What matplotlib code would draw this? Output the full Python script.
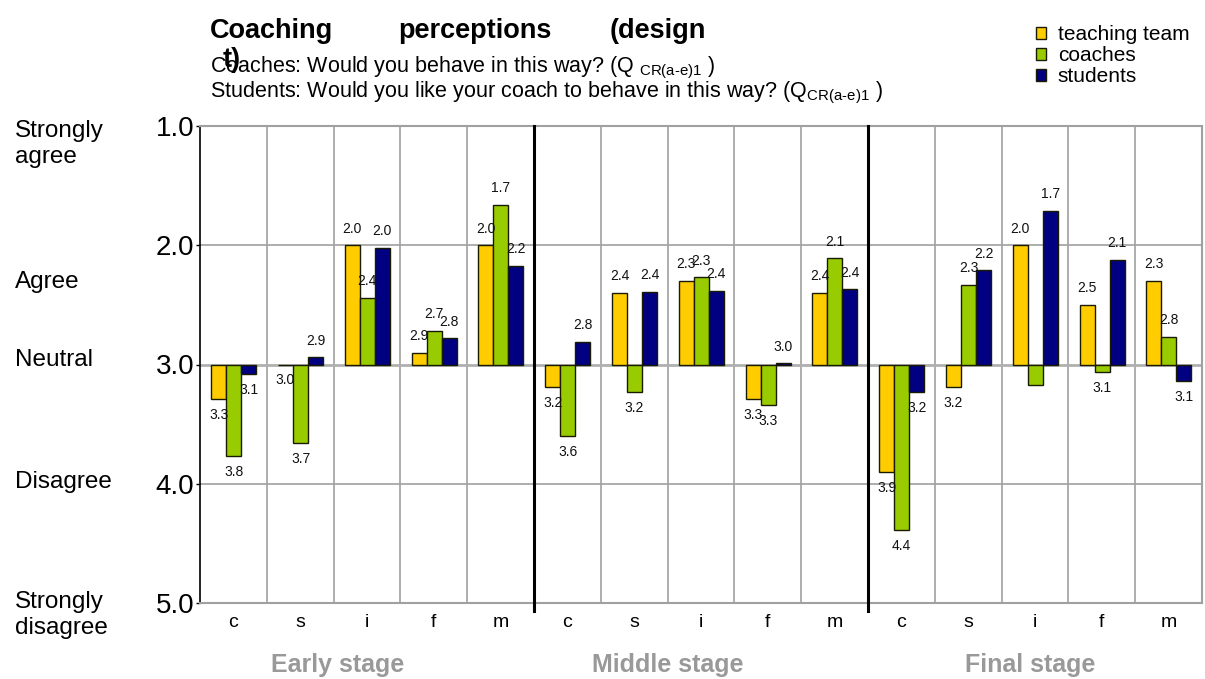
import matplotlib
matplotlib.use("Agg")
import matplotlib.pyplot as plt
import numpy as np

plt.rcParams['font.family'] = ['Liberation Sans', 'DejaVu Sans']
plt.rcParams['mathtext.fontset'] = 'custom'
plt.rcParams['mathtext.rm'] = 'Liberation Sans'

W, H = 1205, 679

# data
stages = ["Early stage", "Middle stage", "Final stage"]
criteria = ["c", "s", "i", "f", "m"]
series = ["teaching team", "coaches", "students"]
colors = ["#FFCC00", "#99CC00", "#000080"]

teaching_team = [3.29, 3.00, 2.00, 2.90, 2.00,
                 3.19, 2.40, 2.30, 3.29, 2.40,
                 3.90, 3.19, 2.00, 2.50, 2.30]
coaches = [3.77, 3.66, 2.44, 2.72, 1.66,
           3.60, 3.23, 2.27, 3.34, 2.11,
           4.39, 2.33, 3.17, 3.06, 2.77]
students = [3.08, 2.94, 2.02, 2.78, 2.17,
            2.81, 2.39, 2.38, 2.99, 2.37,
            3.23, 2.21, 1.71, 2.12, 3.14]
# (group, series) pairs that carry no value label in the original
unlabelled = [(12, 1)]

y_ticks = [1.0, 2.0, 3.0, 4.0, 5.0]
scale_labels = ["Strongly\nagree", "Agree", "Neutral", "Disagree", "Strongly\ndisagree"]
scale_label_y = [144, 282, 360, 482, 615]  # pixel rows


def fx(px):
    return px / W


def fy(py):
    return 1 - py / H


fig = plt.figure(figsize=(W / 100, H / 100), dpi=100)
ax = fig.add_axes([fx(200), fy(603), fx(1202) - fx(200), fy(126) - fy(603)])

n = len(stages) * len(criteria)
groups = np.arange(n)
offsets = [0.28, 0.505, 0.73]
width = 0.225
neutral = 3.0

for s, (vals, col) in enumerate(zip([teaching_team, coaches, students], colors)):
    xs = groups + offsets[s]
    vals = np.array(vals)
    ax.bar(xs, vals - neutral, bottom=neutral, width=width, color=col,
           edgecolor="#1a1a00", linewidth=1.0, label=series[s], zorder=3)
    for g, (x, v) in enumerate(zip(xs, vals)):
        if (g, s) in unlabelled:
            continue
        dy = 12 if v < neutral else -11.5
        ax.annotate(f"{v:.1f}", (x, v), xytext=(0, dy), textcoords="offset points",
                    ha="center", va="center", fontsize=10, color="#111111", zorder=4)

ax.set_xlim(0, n)
ax.set_ylim(5, 1)
ax.set_yticks(y_ticks)
ax.set_yticklabels([f"{t:.1f}" for t in y_ticks], fontsize=20)
ax.set_xticks(groups + 0.5)
ax.set_xticklabels(criteria * len(stages), fontsize=14)
ax.tick_params(axis="x", length=0, pad=8)
ax.tick_params(axis="y", length=3, width=1, direction="out", pad=1)

# grid
for g in range(1, n):
    if g % len(criteria) == 0:
        ax.plot([g, g], [5.07, 1.0], color="black", lw=2.2, clip_on=False, zorder=5)
    else:
        ax.axvline(g, color="#a0a0a0", lw=1.2, zorder=1)
for t in [2.0, 4.0]:
    ax.axhline(t, color="#a0a0a0", lw=1.2, zorder=1)
ax.axhline(neutral, color="#b0b0b0", lw=2.0, zorder=2)

for side in ["top", "right", "bottom"]:
    ax.spines[side].set_color("#a0a0a0")
    ax.spines[side].set_linewidth(1.5)
ax.spines["left"].set_color("black")
ax.spines["left"].set_linewidth(1.2)

# scale descriptions on the left
for lab, py in zip(scale_labels, scale_label_y):
    fig.text(fx(15), fy(py), lab, ha="left", va="center", fontsize=17.5, linespacing=1.25)

# stage labels
for lab, px in zip(stages, [338, 668, 1030]):
    fig.text(fx(px), fy(665), lab, ha="center", va="center", fontsize=18,
             fontweight="bold", color="#999999")

# title (broken justified layout as in the original)
for word, px in zip(["Coaching", "perceptions", "(design"], [210, 398, 610]):
    fig.text(fx(px), fy(38), word, ha="left", va="baseline", fontsize=19.5, fontweight="bold")
fig.text(fx(223), fy(67), "t)", ha="left", va="baseline", fontsize=19.5, fontweight="bold")

sub = r"$_{\mathregular{CR(a‐e)1}}$"
fig.text(fx(210), fy(72), "Coaches: Would you behave in this way? (Q " + sub + " )",
         ha="left", va="baseline", fontsize=15.5)
fig.text(fx(210), fy(97), "Students: Would you like your coach to behave in this way? (Q" + sub + " )",
         ha="left", va="baseline", fontsize=15.5)

fig.legend(loc="upper left", bbox_to_anchor=(fx(1036), fy(25)), frameon=False,
           fontsize=15, handlelength=0.5, handleheight=0.5, handletextpad=0.55,
           labelspacing=0.1, borderpad=0, borderaxespad=0)

fig.savefig("out.png", dpi=100)
